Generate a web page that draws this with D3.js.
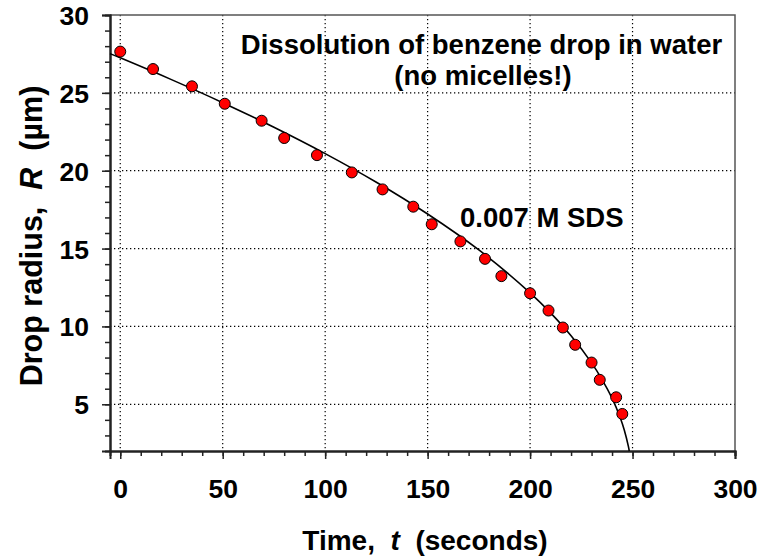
<!DOCTYPE html>
<html>
<head>
<meta charset="utf-8">
<script src="https://cdn.jsdelivr.net/npm/d3@7"></script>
<style>
  body { margin: 0; background: #fff; }
  svg text { font-family: Arial, "Liberation Sans", sans-serif; font-weight: bold; fill: #000; }
</style>
</head>
<body>
<div id="chart"></div>
<script>
// measured drop radius (red dots)
const timePoints = [0, 16, 35, 51, 69, 80, 96, 113, 128, 143, 152, 166, 178, 186, 200, 209, 216, 222, 230, 234, 242, 245];
const radiusPoints = [27.65, 26.53, 25.42, 24.3, 23.21, 22.1, 21.0, 19.89, 18.8, 17.69, 16.56, 15.46, 14.34, 13.23, 12.13, 11.02, 9.93, 8.82, 7.68, 6.57, 5.45, 4.38];

// fitted curve
const curveTime = [-5, 0, 25, 50, 75, 100, 125, 150, 175, 200, 210, 220, 230, 235, 240, 244, 246, 248, 248.4];
const curveRadius = [27.52, 27.25, 25.85, 24.37, 22.79, 21.1, 19.26, 17.22, 14.91, 12.16, 10.87, 9.4, 7.66, 6.62, 5.39, 4.13, 3.33, 2.28, 2.0];

const xTicks = [0, 50, 100, 150, 200, 250, 300];
const yTicks = [5, 10, 15, 20, 25, 30];

const margin = { top: 15, right: 24, bottom: 107, left: 110 };
const W = 759, H = 558;
const width = W - margin.left - margin.right;
const height = H - margin.top - margin.bottom;

const svg = d3.select("#chart").append("svg")
    .attr("width", W)
    .attr("height", H);

const g = svg.append("g")
    .attr("transform", `translate(${margin.left},${margin.top})`);

const x = d3.scaleLinear().domain([-5, 300]).range([0, width]);
const y = d3.scaleLinear().domain([2, 30]).range([height, 0]);

// dotted grid
g.selectAll(".vgrid")
    .data(xTicks.filter(d => d < 300))
    .enter().append("line")
    .attr("x1", d => x(d)).attr("x2", d => x(d))
    .attr("y1", 0).attr("y2", height)
    .attr("stroke", "#000")
    .attr("stroke-width", 1.2)
    .attr("stroke-dasharray", "1.3,2.7");

g.selectAll(".hgrid")
    .data(yTicks.filter(d => d < 30))
    .enter().append("line")
    .attr("x1", 0).attr("x2", width)
    .attr("y1", d => y(d)).attr("y2", d => y(d))
    .attr("stroke", "#000")
    .attr("stroke-width", 1.2)
    .attr("stroke-dasharray", "1.3,2.7");

// top and right frame
g.append("path")
    .attr("d", `M0,0H${width}V${height}`)
    .attr("fill", "none")
    .attr("stroke", "#555")
    .attr("stroke-width", 1.5);

// x axis: major + minor ticks
const xAxisMinor = d3.axisBottom(x)
    .tickValues(d3.range(0, 301, 10))
    .tickSize(5)
    .tickFormat("");
const xAxisMajor = d3.axisBottom(x)
    .tickValues(xTicks)
    .tickSize(8)
    .tickPadding(20);

const gxMinor = g.append("g").attr("transform", `translate(0,${height})`).call(xAxisMinor);
const gx = g.append("g").attr("transform", `translate(0,${height})`).call(xAxisMajor);

// y axis: major + minor ticks
const yAxisMinor = d3.axisLeft(y)
    .tickValues(d3.range(3, 30, 1))
    .tickSize(5)
    .tickFormat("");
const yAxisMajor = d3.axisLeft(y)
    .tickValues(yTicks)
    .tickSize(8)
    .tickPadding(13);

const gyMinor = g.append("g").call(yAxisMinor);
const gy = g.append("g").call(yAxisMajor);

[gxMinor, gx, gyMinor, gy].forEach(a => {
    a.selectAll(".domain").attr("stroke", "#222").attr("stroke-width", 2);
    a.selectAll(".tick line").attr("stroke", "#222").attr("stroke-width", 1.5);
});
gx.selectAll(".tick text")
    .style("font-size", "26.5px")
    .attr("dy", "0.71em");
gy.selectAll(".tick text")
    .style("font-size", "26.5px")
    .attr("dy", "0.36em");

// fitted curve
const line = d3.line()
    .x((d, i) => x(curveTime[i]))
    .y(d => y(d))
    .curve(d3.curveCatmullRom);

g.append("path")
    .datum(curveRadius)
    .attr("d", line)
    .attr("fill", "none")
    .attr("stroke", "#000")
    .attr("stroke-width", 1.6);

// data points
g.selectAll(".dot")
    .data(radiusPoints)
    .enter().append("circle")
    .attr("class", "dot")
    .attr("cx", (d, i) => x(timePoints[i]))
    .attr("cy", d => y(d))
    .attr("r", 5.5)
    .attr("fill", "#ff0000")
    .attr("stroke", "#000")
    .attr("stroke-width", 1);

// annotations
g.append("text")
    .attr("x", 371.5)
    .attr("y", 38.5)
    .attr("text-anchor", "middle")
    .style("font-size", "27.5px")
    .text("Dissolution of benzene drop in water");

g.append("text")
    .attr("x", 373)
    .attr("y", 69.5)
    .attr("text-anchor", "middle")
    .style("font-size", "27.5px")
    .text("(no micelles!)");

g.append("text")
    .attr("x", 350)
    .attr("y", 212)
    .style("font-size", "27.5px")
    .text("0.007 M SDS");

// axis titles
const xt = svg.append("text")
    .attr("x", 425)
    .attr("y", 550)
    .attr("text-anchor", "middle")
    .style("font-size", "28px")
    .style("white-space", "pre");
xt.append("tspan").text("Time,  ");
xt.append("tspan").style("font-style", "italic").text("t");
xt.append("tspan").text("  (seconds)");

const yt = svg.append("text")
    .attr("transform", "translate(42,236) rotate(-90)")
    .attr("text-anchor", "middle")
    .style("font-size", "30.5px")
    .style("white-space", "pre");
yt.append("tspan").text("Drop radius,  ");
yt.append("tspan").style("font-style", "italic").text("R");
yt.append("tspan").text("  (\u00b5m)");
</script>
</body>
</html>
